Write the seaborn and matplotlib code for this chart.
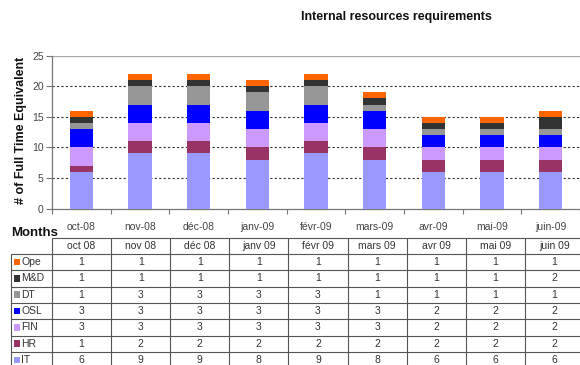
import matplotlib
matplotlib.use("Agg")
import matplotlib.pyplot as plt
import seaborn as sns
import pandas as pd
import numpy as np

# Months shown on the chart axis and in the data table header
month_ticks = ["oct-08", "nov-08", "déc-08", "janv-09", "févr-09",
               "mars-09", "avr-09", "mai-09", "juin-09"]
month_cols = ["oct 08", "nov 08", "déc 08", "janv 09", "févr 09",
              "mars 09", "avr 09", "mai 09", "juin 09"]

# Full time equivalents per team (table order, top to bottom)
teams = ["Ope", "M&D", "DT", "OSL", "FIN", "HR", "IT"]
ope = [1, 1, 1, 1, 1, 1, 1, 1, 1]
md = [1, 1, 1, 1, 1, 1, 1, 1, 2]
dt = [1, 3, 3, 3, 3, 1, 1, 1, 1]
osl = [3, 3, 3, 3, 3, 3, 2, 2, 2]
fin = [3, 3, 3, 3, 3, 3, 2, 2, 2]
hr = [1, 2, 2, 2, 2, 2, 2, 2, 2]
it = [6, 9, 9, 8, 9, 8, 6, 6, 6]

team_colors = {"Ope": "#FF6600", "M&D": "#333333", "DT": "#969696",
               "OSL": "#0000FF", "FIN": "#CC99FF", "HR": "#993366",
               "IT": "#9999FF"}

values = {"Ope": ope, "M&D": md, "DT": dt, "OSL": osl,
          "FIN": fin, "HR": hr, "IT": it}

sns.set_theme(style="white")
plt.rcParams["font.family"] = ["Liberation Sans", "DejaVu Sans"]

W, H = 580, 365
fig = plt.figure(figsize=(W / 100, H / 100), dpi=100)
fig.patch.set_facecolor("white")


def fx(px):
    return px / W


def fy(py):
    return 1 - py / H


# chart geometry (pixels)
x0, top, bottom = 52, 55.7, 208.5
col_w = 59.1
ax = fig.add_axes([fx(x0), fy(bottom), fx(W - x0), fy(top) - fy(bottom)])

# stacked bars: bottom-up order IT, HR, FIN, OSL, DT, M&D, Ope
stack_order = teams[::-1]
df = pd.DataFrame(values)
df["month"] = month_ticks
cum = df[stack_order].cumsum(axis=1)

# draw cumulative totals from the top segment down so each layer shows
for team in teams:
    sns.barplot(x=df["month"], y=cum[team], color=team_colors[team],
                width=0.4, saturation=1, ax=ax, order=month_ticks,
                linewidth=0, zorder=3)

ax.set_xlim(-0.5, (W - x0) / col_w - 0.5)
ax.set_ylim(0, 25)
ax.set_yticks([0, 5, 10, 15, 20, 25])
ax.set_xlabel("")
ax.set_ylabel("")

for y in [5, 10, 15, 20]:
    ax.axhline(y, color="#333333", lw=0.8, ls=(0, (2, 2)), zorder=1)
ax.axhline(25, color="#a8a8a8", lw=1.0, zorder=1)

for s in ["top", "right"]:
    ax.spines[s].set_visible(False)
ax.spines["left"].set_color("#777777")
ax.spines["bottom"].set_color("#777777")
ax.spines["left"].set_linewidth(0.9)
ax.spines["bottom"].set_linewidth(0.9)

ax.set_xticks(np.arange(9))
ax.set_xticklabels(month_ticks)
ax.set_xticks(np.arange(-0.5, 9, 1), minor=True)
ax.tick_params(axis="x", which="major", length=0, pad=10,
               labelsize=7.5, labelcolor="#444444")
ax.tick_params(axis="x", which="minor", bottom=True, length=3.5,
               color="#777777", width=0.8, direction="out")
ax.tick_params(axis="y", left=True, length=4, width=0.8, color="#777777",
               pad=2, labelsize=7.5, labelcolor="#444444", direction="out")

fig.text(fx(396), fy(17), "Internal resources requirements",
         ha="center", va="center", fontsize=9, fontweight="bold",
         color="#111111")
fig.text(fx(21), fy(130), "# of Full Time Equivalent", rotation=90,
         ha="center", va="center", fontsize=9, fontweight="bold",
         color="#111111")

# data table drawn beneath the chart in pixel coordinates
tab = fig.add_axes([0, 0, 1, 1], zorder=5)
tab.set_xlim(0, W)
tab.set_ylim(H, 0)
tab.axis("off")
tab.patch.set_alpha(0)

tab.text(11, 233, "Months", ha="left", va="center", fontsize=9.5,
         fontweight="bold", color="#111111")

line_c = "#555555"
lw = 0.8
head_top, head_bot = 238, 254
row_h = 16.3
lab_left = 10.5
n_rows = len(teams)
col_edges = [x0 + i * col_w for i in range(len(month_cols) + 1)]
row_edges = [head_bot + i * row_h for i in range(n_rows + 1)]

# header row
tab.plot([x0, W], [head_top, head_top], color=line_c, lw=lw)
for i, lab in enumerate(month_cols):
    cx = x0 + (i + 0.5) * col_w
    tab.text(cx, (head_top + head_bot) / 2, lab, ha="center", va="center",
             fontsize=7.5, color="#333333")
# horizontal rules
for ry in row_edges:
    tab.plot([lab_left, W], [ry, ry], color=line_c, lw=lw)
# vertical rules
for cxe in col_edges:
    tab.plot([cxe, cxe], [head_top, H], color=line_c, lw=lw)
tab.plot([lab_left, lab_left], [head_bot, H], color=line_c, lw=lw)

for r, team in enumerate(teams):
    cy = head_bot + (r + 0.5) * row_h
    tab.add_patch(plt.Rectangle((13.5, cy - 3.3), 6.5, 6.5,
                                color=team_colors[team], lw=0))
    tab.text(21.5, cy, team, ha="left", va="center", fontsize=7.5,
             color="#333333")
    for i, v in enumerate(values[team]):
        cx = x0 + (i + 0.5) * col_w
        tab.text(cx, cy, str(v), ha="center", va="center", fontsize=7.5,
                 color="#333333")

fig.savefig("out.png", dpi=100, facecolor="white")
